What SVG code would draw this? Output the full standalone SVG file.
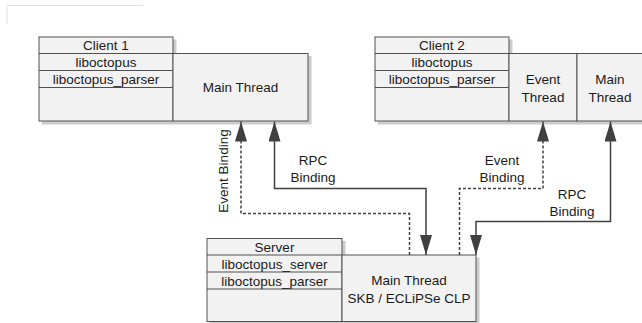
<svg xmlns="http://www.w3.org/2000/svg" width="642" height="323" viewBox="0 0 642 323">
<defs>
<marker id="ah" viewBox="0 0 20 12" refX="20" refY="6" markerWidth="20" markerHeight="12" markerUnits="userSpaceOnUse" orient="auto-start-reverse">
<path d="M0,0 L20,6 L0,12 Z" fill="#404040"/>
</marker>
<filter id="sh" x="-5%" y="-5%" width="115%" height="115%">
<feOffset dx="3" dy="3" in="SourceAlpha" result="o"/>
<feColorMatrix in="o" type="matrix" values="0 0 0 0 0  0 0 0 0 0  0 0 0 0 0  0 0 0 0.2 0" result="c"/>
<feMerge><feMergeNode in="c"/><feMergeNode in="SourceGraphic"/></feMerge>
</filter>
</defs>
<style>
.b{fill:#f2f2f2;stroke:#505050;stroke-width:1}
.t{font-family:"Liberation Sans",Arial,sans-serif;font-size:13.5px;fill:#1a1a1a;text-anchor:middle}
.s{fill:none;stroke:#404040;stroke-width:1.5}
.d{fill:none;stroke:#404040;stroke-width:1.5;stroke-dasharray:3,2}
</style>
<rect width="642" height="323" fill="#fff"/>
<path d="M7,24 V5.5 H143" fill="none" stroke="#e0e0e0" stroke-width="1"/>

<g id="client1">
<g filter="url(#sh)">
<rect class="b" x="39" y="37" width="134" height="84"/>
<rect class="b" x="173" y="53.5" width="135" height="67.5"/>
</g>
<line x1="39" y1="53.5" x2="173" y2="53.5" stroke="#505050"/>
<line x1="39" y1="70.5" x2="173" y2="70.5" stroke="#505050"/>
<line x1="39" y1="87.5" x2="173" y2="87.5" stroke="#505050"/>
<text class="t" x="106" y="50">Client 1</text>
<text class="t" x="106" y="67">liboctopus</text>
<text class="t" x="106" y="84">liboctopus_parser</text>
<text class="t" x="240.5" y="92">Main Thread</text>
</g>

<g id="client2">
<g filter="url(#sh)">
<rect class="b" x="375" y="37" width="134" height="84"/>
<rect class="b" x="509" y="53.5" width="68" height="67.5"/>
<rect class="b" x="577" y="53.5" width="68" height="67.5"/>
</g>
<line x1="375" y1="53.5" x2="509" y2="53.5" stroke="#505050"/>
<line x1="375" y1="70.5" x2="509" y2="70.5" stroke="#505050"/>
<line x1="375" y1="87.5" x2="509" y2="87.5" stroke="#505050"/>
<text class="t" x="442" y="50">Client 2</text>
<text class="t" x="442" y="67">liboctopus</text>
<text class="t" x="442" y="84">liboctopus_parser</text>
<text class="t" x="543" y="83.5">Event</text>
<text class="t" x="543" y="101.5">Thread</text>
<text class="t" x="610" y="83.5">Main</text>
<text class="t" x="610" y="101.5">Thread</text>
</g>

<g id="server">
<g filter="url(#sh)">
<rect class="b" x="207" y="238.5" width="135" height="83"/>
<rect class="b" x="342" y="255" width="134" height="66.5"/>
</g>
<line x1="207" y1="255" x2="342" y2="255" stroke="#505050"/>
<line x1="207" y1="272" x2="342" y2="272" stroke="#505050"/>
<line x1="207" y1="289" x2="342" y2="289" stroke="#505050"/>
<text class="t" x="274.5" y="252">Server</text>
<text class="t" x="274.5" y="268.5">liboctopus_server</text>
<text class="t" x="274.5" y="285.5">liboctopus_parser</text>
<text class="t" x="409" y="285">Main Thread</text>
<text class="t" x="409" y="303">SKB / ECLiPSe CLP</text>
</g>

<g id="connectors">
<path class="d" d="M409.5,255 V213.5 H241 V121.5" marker-end="url(#ah)"/>
<path class="s" d="M274.5,121.5 V188.5 H426 V255" marker-start="url(#ah)" marker-end="url(#ah)"/>
<path class="d" d="M459.5,255 V188.5 H543 V121.5" marker-end="url(#ah)"/>
<path class="s" d="M610.5,121.5 V221.5 H476 V255" marker-start="url(#ah)" marker-end="url(#ah)"/>
<text class="t" transform="translate(228,171) rotate(-90)">Event Binding</text>
<text class="t" x="313" y="165">RPC</text>
<text class="t" x="313" y="182">Binding</text>
<text class="t" x="502" y="165">Event</text>
<text class="t" x="502" y="182">Binding</text>
<text class="t" x="572" y="199">RPC</text>
<text class="t" x="572" y="216">Binding</text>
</g>
</svg>
